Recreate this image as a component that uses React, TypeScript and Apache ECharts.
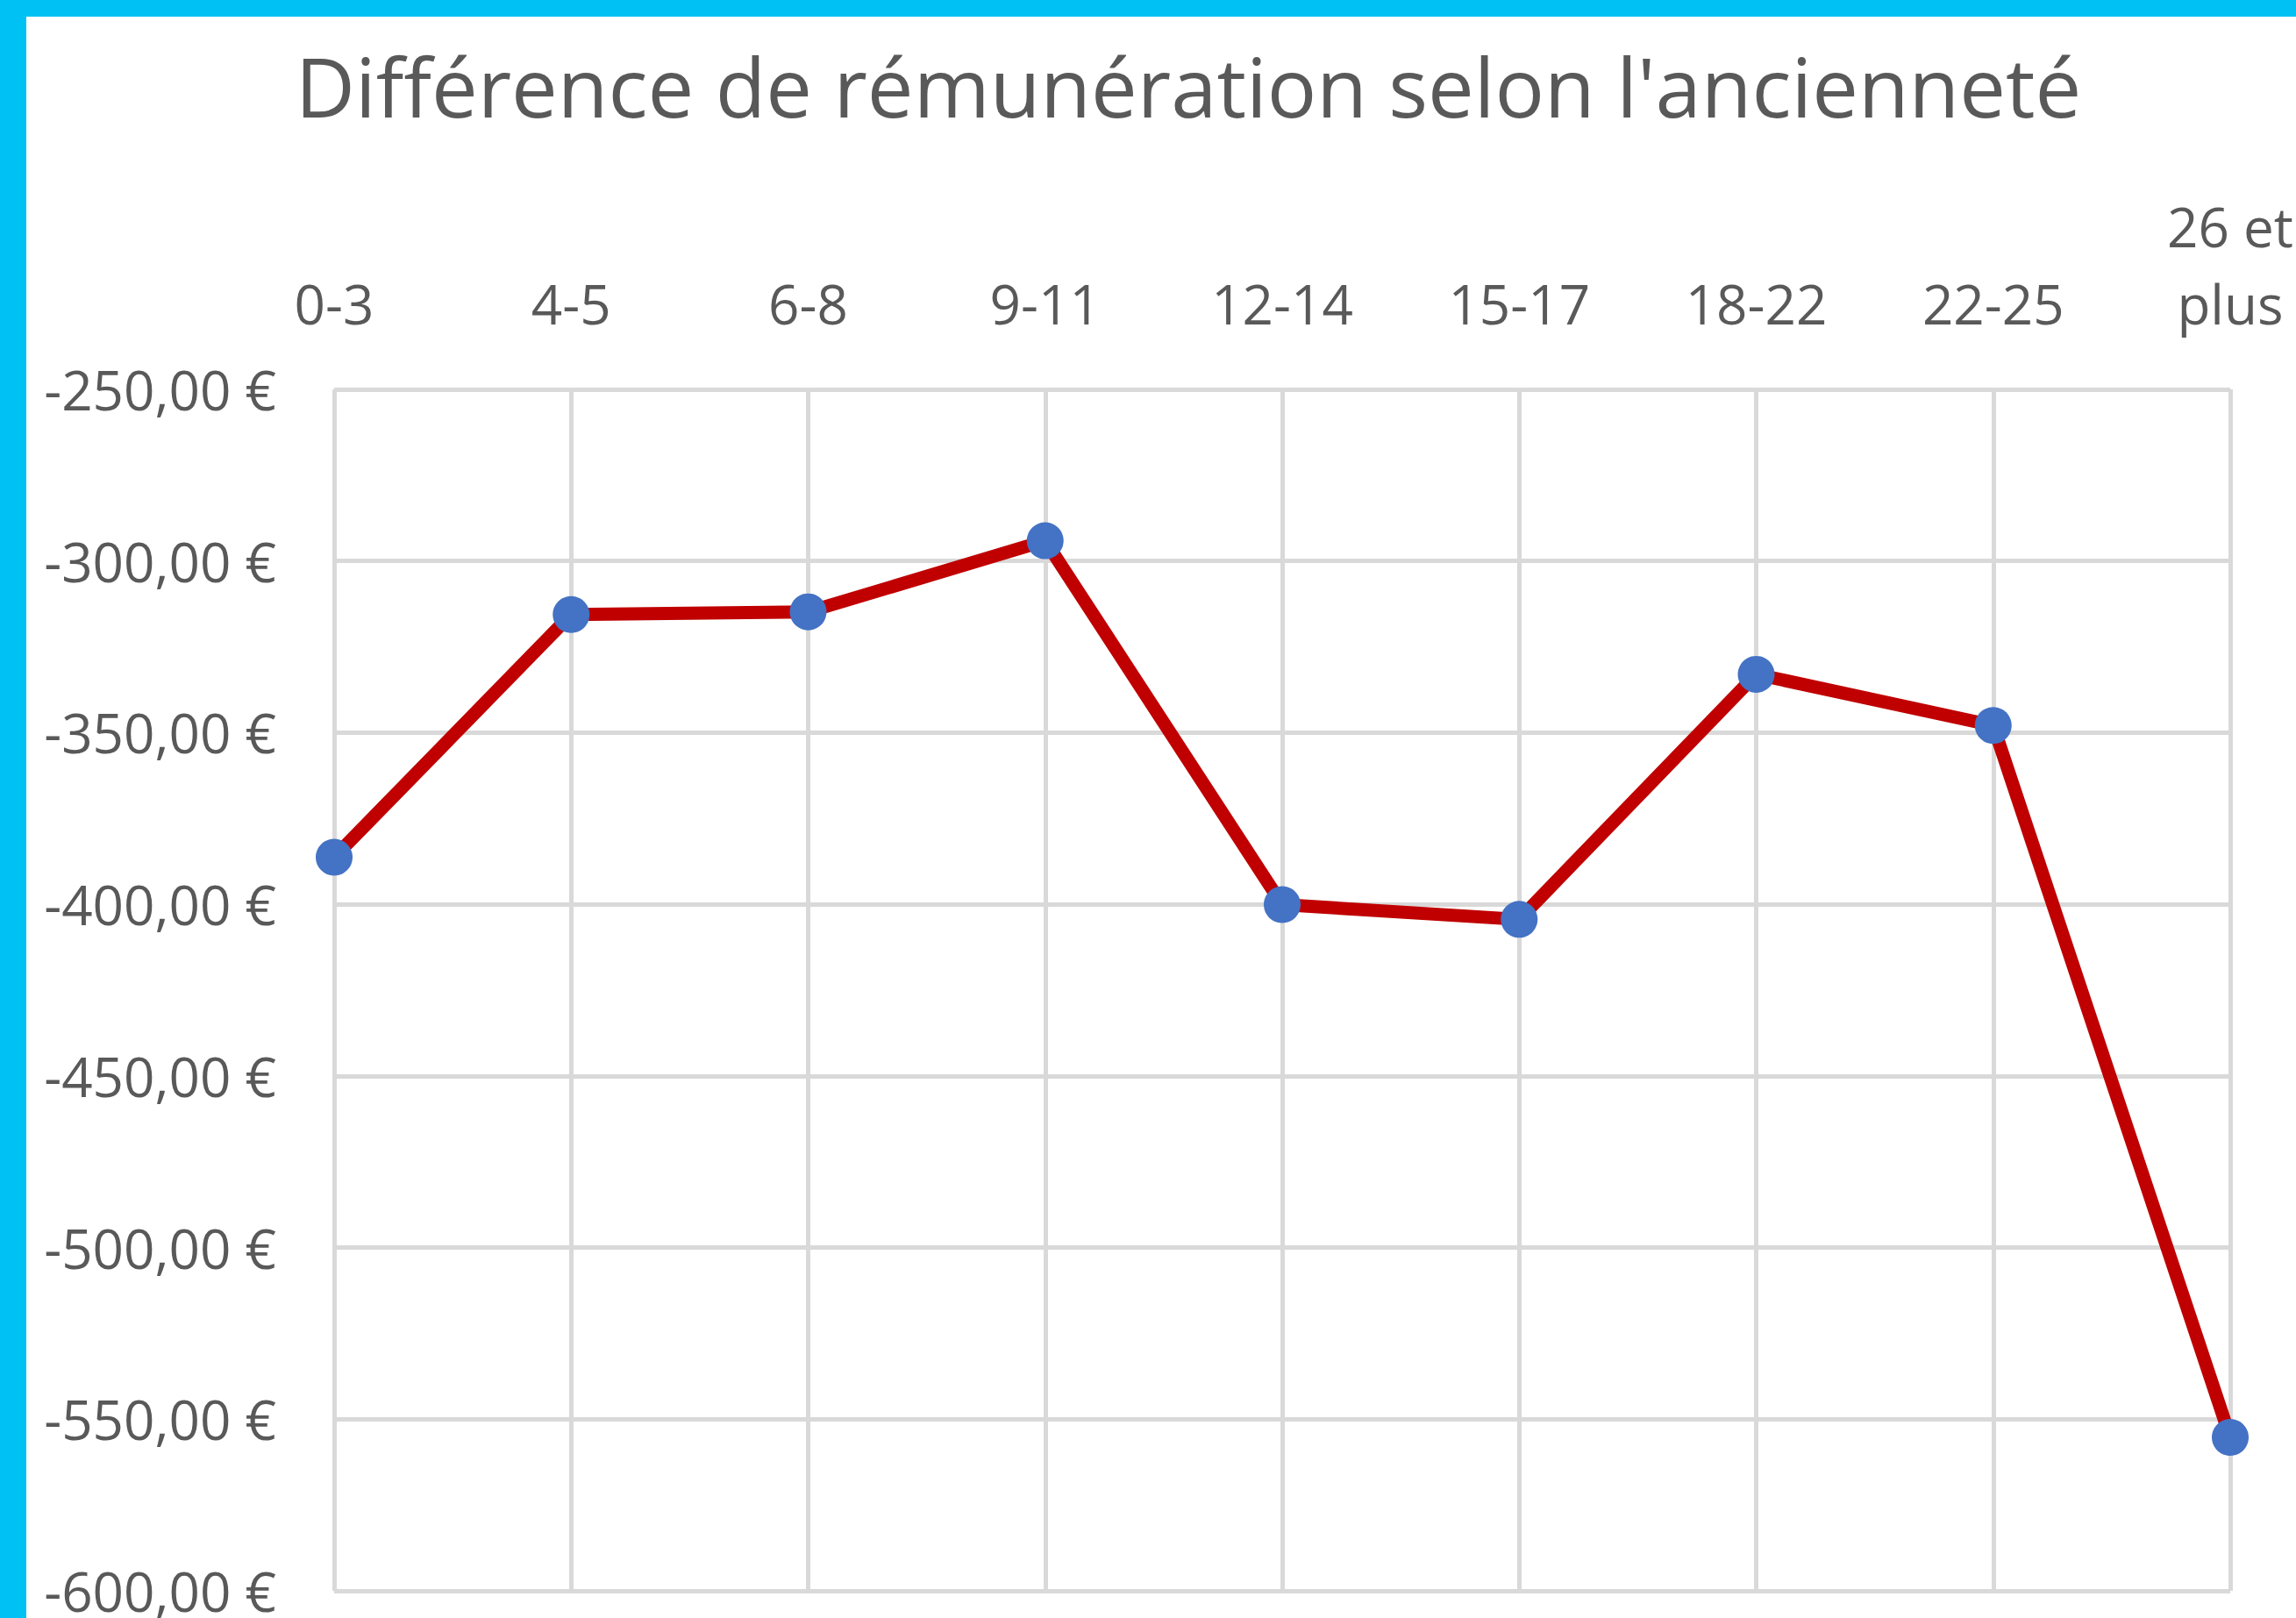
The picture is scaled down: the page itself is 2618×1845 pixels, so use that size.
import React, { useEffect, useRef } from "react";
import * as echarts from "echarts";

const TITLE = "Différence de rémunération selon l'ancienneté";
const categories = ["0-3", "4-5", "6-8", "9-11", "12-14", "15-17", "18-22", "22-25", "26 et\nplus"];
const values = [-386.3, -315.6, -314.8, -294.1, -400.1, -404.4, -333.0, -347.9, -555.3];
const yMin = -600;
const yMax = -250;
const yStep = 50;

const W = 2618;
const H = 1845;
const FONT = "'Open Sans', 'Noto Sans', sans-serif";
const TEXT_COLOR = "#595959";
const GRID_COLOR = "#D9D9D9";

function formatEuro(v: number): string {
  return v.toFixed(2).replace(".", ",") + " €";
}

export default function App() {
  const ref = useRef<HTMLDivElement>(null);

  useEffect(() => {
    if (!ref.current) return;
    const chart = echarts.init(ref.current, null, { renderer: "svg" });
    chart.setOption({
      animation: false,
      backgroundColor: "#ffffff",
      title: {
        text: TITLE,
        left: 1350,
        top: 46,
        textAlign: "center",
        textStyle: {
          fontFamily: FONT,
          fontSize: 94,
          fontWeight: "normal",
          color: TEXT_COLOR,
        },
      },
      graphic: [
        { type: "rect", left: 0, top: 0, shape: { x: 0, y: 0, width: W, height: 19 }, style: { fill: "#00C1F3" }, z: 100 },
        { type: "rect", left: 0, top: 0, shape: { x: 0, y: 0, width: 30, height: H }, style: { fill: "#00C1F3" }, z: 100 },
      ],
      grid: {
        left: 381,
        right: W - 2543,
        top: 444,
        bottom: H - 1818,
        containLabel: false,
      },
      xAxis: {
        type: "category",
        position: "top",
        data: categories,
        boundaryGap: false,
        axisLine: { show: false },
        axisTick: { show: false },
        axisLabel: {
          margin: 54,
          fontFamily: FONT,
          fontSize: 62,
          lineHeight: 88,
          color: TEXT_COLOR,
          interval: 0,
        },
        splitLine: { show: true, lineStyle: { color: GRID_COLOR, width: 5 } },
      },
      yAxis: {
        type: "value",
        min: yMin,
        max: yMax,
        interval: yStep,
        axisLine: { show: false },
        axisTick: { show: false },
        axisLabel: {
          margin: 66,
          fontFamily: FONT,
          fontSize: 62,
          color: TEXT_COLOR,
          formatter: (v: number) => formatEuro(v),
        },
        splitLine: { show: true, lineStyle: { color: GRID_COLOR, width: 5 } },
      },
      series: [
        {
          type: "line",
          data: values,
          symbol: "circle",
          symbolSize: 42,
          showSymbol: true,
          itemStyle: { color: "#4472C4" },
          lineStyle: { color: "#C00000", width: 15, join: "round" },
          z: 3,
        },
      ],
    });
    return () => chart.dispose();
  }, []);

  return (
    <div
      ref={ref}
      style={{ position: "fixed", left: 0, top: 0, width: W, height: H }}
    />
  );
}
